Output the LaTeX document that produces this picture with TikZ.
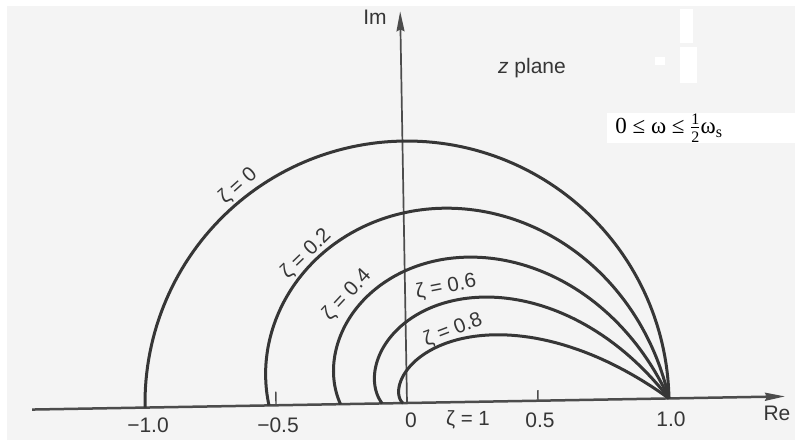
\documentclass[tikz,border=0pt]{standalone}
\usepackage{fontspec}
\setmainfont{Liberation Sans}
\newfontfamily\wserif{Liberation Serif}
\usetikzlibrary{arrows.meta}
\definecolor{bgc}{HTML}{F4F4F4}
\definecolor{ink}{HTML}{363636}
\definecolor{axisc}{HTML}{4C4C4C}
\tikzset{
  lab/.style={text=ink, font=\fontsize{21}{24}\selectfont, inner sep=0pt},
  zlab/.style={text=ink, font=\fontsize{20.5}{23}\selectfont, inner sep=0pt},
  curve/.style={draw=ink, line width=3pt},
  axisline/.style={draw=axisc, line width=2.5pt},
  tip/.style={-{Stealth[length=20pt,width=8pt,inset=2pt]}},
  patch/.style={fill=white, draw=none}
}
\begin{document}
\begin{tikzpicture}[x=1pt,y=-1pt]
\useasboundingbox (0,0) rectangle (795,440);
\fill[bgc] (0,0) rectangle (795,440);
\fill[patch] (0,0) rectangle (795,6);
\fill[patch] (0,0) rectangle (7,440);
\fill[patch] (680,9) rectangle (693,43);
\fill[patch] (680,47) rectangle (697,83);
\fill[patch] (655,57) rectangle (665,65);
\fill[patch] (607,113) rectangle (795,143);

\begin{scope}[shift={(407,403)}, x=262pt, y=262pt, rotate=1]
  \coordinate (O) at (0,0);
  \coordinate (reL) at (-1.431,0);
  \coordinate (reR) at (1.443,0);
  \coordinate (imT) at (0,1.495);
  \coordinate (tmA) at (-0.5,0);
  \coordinate (tmAt) at (-0.5,0.052);
  \coordinate (tpA) at (0.5,0);
  \coordinate (tpAt) at (0.5,0.04);
  \draw[axisline, tip] (reL) -- (reR);
  \draw[draw=axisc, line width=1.7pt, tip] (O) -- (imT);
  \draw[draw=axisc, line width=1.4pt] (tmA) -- (tmAt);
  \draw[draw=axisc, line width=1.4pt] (tpA) -- (tpAt);
  \foreach \k in {0, 0.20412, 0.43644, 0.75, 1.33333}{
    \draw[curve] plot[domain=0:180, samples=120, variable=\t]
      ({exp(-\k*\t*pi/180)*cos(\t)}, {exp(-\k*\t*pi/180)*sin(\t)});
  }
\end{scope}

\node[lab] (xm1) at (148,425) {−1.0};
\node[lab] (xm05) at (278,425) {−0.5};
\node[lab] (x0) at (411,420) {0};
\node[zlab] (z1) at (468,420) {ζ = 1};
\node[lab] (x05) at (540,420) {0.5};
\node[lab] (x1) at (671,419) {1.0};
\node[lab] (re) at (777,413) {Re};
\node[lab] (im) at (375,17) {Im};
\node[lab] (zp) at (532,68) {\textit{z} plane};

\node[zlab, rotate=42] (l0) at (238,186) {ζ = 0};
\node[zlab, rotate=44] (l2) at (306,254) {ζ = 0.2};
\node[zlab, rotate=47] (l4) at (347,295) {ζ = 0.4};
\node[zlab, rotate=11] (l6) at (446,287) {ζ = 0.6};
\node[zlab, rotate=21] (l8) at (453,330) {ζ = 0.8};

\node[inner sep=0pt, text=black, font=\wserif\fontsize{23}{27}\selectfont] (wl) at (669,128)
  {0 ≤\ ω ≤ $\frac{\hbox{\wserif\fontsize{16}{16}\selectfont 1}}{\hbox{\wserif\fontsize{16}{16}\selectfont 2}}$ω\textsubscript{s}};
\end{tikzpicture}
\end{document}
